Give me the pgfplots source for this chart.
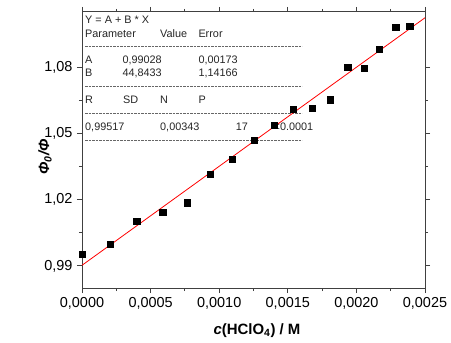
\documentclass[border=0pt]{standalone}
\usepackage{fontspec}
\setmainfont{Liberation Sans}
\usepackage{pgfplots}
\pgfplotsset{compat=1.18}

\definecolor{axisgray}{gray}{0.25}

\begin{document}
\begin{tikzpicture}
% fixed page frame around the 343 x 276 plot box
\useasboundingbox (-82bp,-55bp) rectangle (369bp,288bp);

% fit report (drawn first so the data marks sit on top of it)
\begin{scope}[every node/.style={inner sep=0pt, anchor=base west,
    font=\fontsize{10.9}{12}\selectfont, text=black!85}]
  \node at (3bp,264bp) {Y = A + B * X};
  \node at (3bp,250.7bp) {Parameter};
  \node at (78bp,250.7bp) {Value};
  \node at (116.3bp,250.7bp) {Error};
  \node at (3bp,224bp) {A};
  \node at (40.3bp,224bp) {0,99028};
  \node at (116.3bp,224bp) {0,00173};
  \node at (3bp,211.3bp) {B};
  \node at (40.3bp,211.3bp) {44,8433};
  \node at (116.3bp,211.3bp) {1,14166};
  \node at (3bp,184.7bp) {R};
  \node at (41bp,184.7bp) {SD};
  \node at (78bp,184.7bp) {N};
  \node at (116.3bp,184.7bp) {P};
  \node at (3bp,157.3bp) {0,99517};
  \node at (78bp,157.3bp) {0,00343};
  \node at (153.7bp,157.3bp) {17};
  \node at (191.5bp,157.3bp) {<0.0001};
\end{scope}
\begin{scope}[black!60, line width=0.5bp, dash pattern=on 2.6bp off 0.9bp]
  \draw (3bp,242bp) -- (220bp,242bp);
  \draw (3bp,201.3bp) -- (220bp,201.3bp);
  \draw (3bp,174.7bp) -- (220bp,174.7bp);
  \draw (3bp,148bp) -- (220bp,148bp);
\end{scope}

\begin{axis}[
  scale only axis,
  width=343bp, height=276bp,
  xmin=0, xmax=0.0025,
  ymin=0.98, ymax=1.105,
  xtick={0,0.0005,0.001,0.0015,0.002,0.0025},
  ytick={0.99,1.02,1.05,1.08},
  minor x tick num=1,
  minor y tick num=1,
  scaled x ticks=false,
  scaled y ticks=false,
  tick align=outside,
  major tick length=5bp,
  minor tick length=3bp,
  axis line style={axisgray, line width=1bp},
  every tick/.style={axisgray, line width=0.9bp},
  tick label style={font=\fontsize{14.5}{16}\selectfont},
  xticklabel style={/pgf/number format/.cd, fixed, fixed zerofill,
    precision=4, use comma, assume math mode=true},
  yticklabel style={/pgf/number format/.cd, fixed, fixed zerofill,
    precision=2, use comma, assume math mode=true},
  xticklabel shift=1bp,
  yticklabel shift=1bp,
]
% linear fit  Y = 0.99028 + 44.8433 X
\addplot[red, line width=0.8bp] coordinates {(0,0.99028) (0.0025,1.10239)};
% measured Phi0/Phi
\addplot[only marks, mark=square*, mark size=3.1bp, black] coordinates {
  (0.000000,0.9954)
  (0.000204,1.0000)
  (0.000398,1.0102)
  (0.000588,1.0145)
  (0.000765,1.0186)
  (0.000935,1.0316)
  (0.001096,1.0383)
  (0.001256,1.0470)
  (0.001400,1.0537)
  (0.001538,1.0610)
  (0.001679,1.0614)
  (0.001808,1.0653)
  (0.001936,1.0799)
  (0.002058,1.0795)
  (0.002167,1.0880)
  (0.002286,1.0981)
  (0.002388,1.0985)
};
\end{axis}

\node[anchor=base, inner sep=0pt, font=\fontsize{15}{17}\selectfont\bfseries]
  at (175bp,-46bp) {\textit{c}(HClO\textsubscript{4}) / M};
\node[rotate=90, inner sep=0pt, font=\fontsize{15}{17}\selectfont\bfseries\itshape]
  at (-37bp,131bp) {Φ\textsubscript{0}/Φ};
\end{tikzpicture}
\end{document}
